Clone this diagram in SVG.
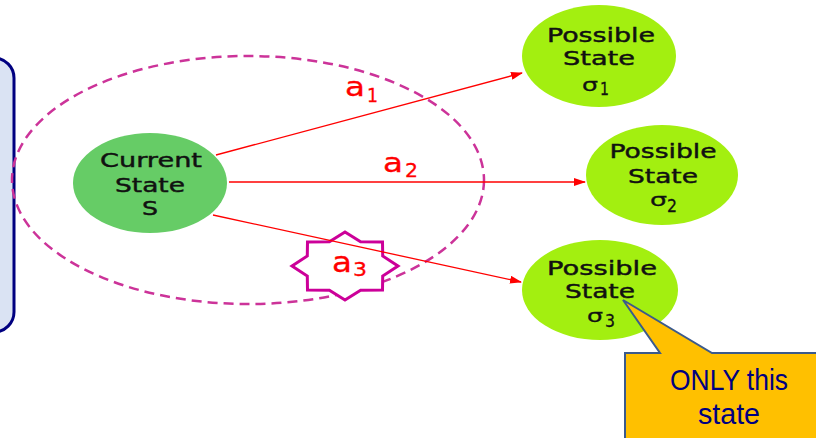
<svg xmlns="http://www.w3.org/2000/svg" width="816" height="438" viewBox="0 0 816 438">
<style>
.node{font-family:"DejaVu Sans",Verdana,sans-serif;font-size:20px;fill:#111;stroke:#111;stroke-width:0.45;text-anchor:middle}
.sig{font-family:"DejaVu Sans",sans-serif;font-size:17px;fill:#111;stroke:#111;stroke-width:0.3}
.lbl{font-family:"DejaVu Sans",Verdana,sans-serif;fill:#ff0000;stroke:#ff0000;stroke-width:0.3}
.edge{stroke:#ff0000;stroke-width:1.3;fill:none;marker-end:url(#ah)}
.ps{fill:#a3ef10}
</style>
<defs>
<marker id="ah" markerWidth="12" markerHeight="8" refX="11" refY="4" orient="auto" markerUnits="userSpaceOnUse">
<path d="M0,0 L12,4 L0,8 Z" fill="#ff0000"/>
</marker>
</defs>
<rect width="816" height="438" fill="#ffffff"/>
<g id="side-panel">
<rect x="-30" y="58" width="44" height="274" rx="20" fill="#dae3f3" stroke="#000080" stroke-width="3"/>
</g>
<g id="scope">
<ellipse cx="248" cy="180" rx="236" ry="124" fill="none" stroke="#cc3399" stroke-width="2.5" stroke-dasharray="10 6"/>
</g>
<g id="current">
<ellipse cx="150" cy="183" rx="77" ry="50" fill="#66cc66"/>
<text class="node" x="151" y="167" textLength="102" lengthAdjust="spacingAndGlyphs">Current</text>
<text class="node" x="150" y="192" textLength="70" lengthAdjust="spacingAndGlyphs">State</text>
<text class="node" x="150" y="215" textLength="16" lengthAdjust="spacingAndGlyphs">S</text>
</g>
<g id="sigma1">
<ellipse class="ps" cx="599" cy="56" rx="77" ry="51"/>
<text class="node" x="601" y="42" textLength="108" lengthAdjust="spacingAndGlyphs">Possible</text>
<text class="node" x="599" y="65" textLength="72" lengthAdjust="spacingAndGlyphs">State</text>
<text class="sig" x="582" y="91" textLength="16" lengthAdjust="spacingAndGlyphs">σ</text>
<text class="sig" x="600" y="95" font-size="14" textLength="9" lengthAdjust="spacingAndGlyphs">1</text>
</g>
<g id="sigma2">
<ellipse class="ps" cx="662" cy="175" rx="76" ry="50"/>
<text class="node" x="663" y="158" textLength="107" lengthAdjust="spacingAndGlyphs">Possible</text>
<text class="node" x="663" y="183" textLength="70" lengthAdjust="spacingAndGlyphs">State</text>
<text class="sig" x="650" y="206" textLength="17" lengthAdjust="spacingAndGlyphs">σ</text>
<text class="sig" x="667" y="212" font-size="14" textLength="10" lengthAdjust="spacingAndGlyphs">2</text>
</g>
<g id="sigma3">
<ellipse class="ps" cx="600" cy="290" rx="78" ry="50"/>
<text class="node" x="602" y="275" textLength="110" lengthAdjust="spacingAndGlyphs">Possible</text>
<text class="node" x="600" y="298" textLength="70" lengthAdjust="spacingAndGlyphs">State</text>
<text class="sig" x="587" y="322" textLength="16" lengthAdjust="spacingAndGlyphs">σ</text>
<text class="sig" x="605" y="327" font-size="14" textLength="10" lengthAdjust="spacingAndGlyphs">3</text>
</g>
<g id="star">
<polygon points="398,266 382.7,276 382.5,290 360.6,290.2 345,300 329.4,290.2 307.5,290 307.3,276 292,266 307.3,256 307.5,242 329.4,241.8 345,232 360.6,241.8 382.5,242 382.7,256" fill="#ffffff" stroke="#cc0099" stroke-width="3"/>
</g>
<g id="connectors">
<line class="edge" x1="216" y1="155" x2="522" y2="73"/>
<line class="edge" x1="229" y1="182" x2="585" y2="182"/>
<line class="edge" x1="213" y1="215" x2="521" y2="282"/>
</g>
<g id="labels">
<text class="lbl" x="345" y="96" font-size="26" textLength="20" lengthAdjust="spacingAndGlyphs">a</text>
<text class="lbl" x="367" y="102" font-size="19" textLength="11" lengthAdjust="spacingAndGlyphs">1</text>
<text class="lbl" x="383" y="172" font-size="26" textLength="20" lengthAdjust="spacingAndGlyphs">a</text>
<text class="lbl" x="405" y="177" font-size="19" textLength="13" lengthAdjust="spacingAndGlyphs">2</text>
<text class="lbl" x="332" y="272" font-size="28" textLength="20" lengthAdjust="spacingAndGlyphs">a</text>
<text class="lbl" x="353" y="276" font-size="19" textLength="14" lengthAdjust="spacingAndGlyphs">3</text>
</g>
<g id="callout">
<path d="M625,353 L660,353 L623,300 L712,353 L822,353 L822,444 L625,444 Z" fill="#ffc000" stroke="#3b5a8c" stroke-width="2"/>
<text x="729" y="390" font-family="Liberation Sans,Arial,sans-serif" font-size="29" fill="#000080" text-anchor="middle" textLength="118" lengthAdjust="spacingAndGlyphs">ONLY this</text>
<text x="729" y="424" font-family="Liberation Sans,Arial,sans-serif" font-size="29" fill="#000080" text-anchor="middle" textLength="62" lengthAdjust="spacingAndGlyphs">state</text>
</g>
</svg>
